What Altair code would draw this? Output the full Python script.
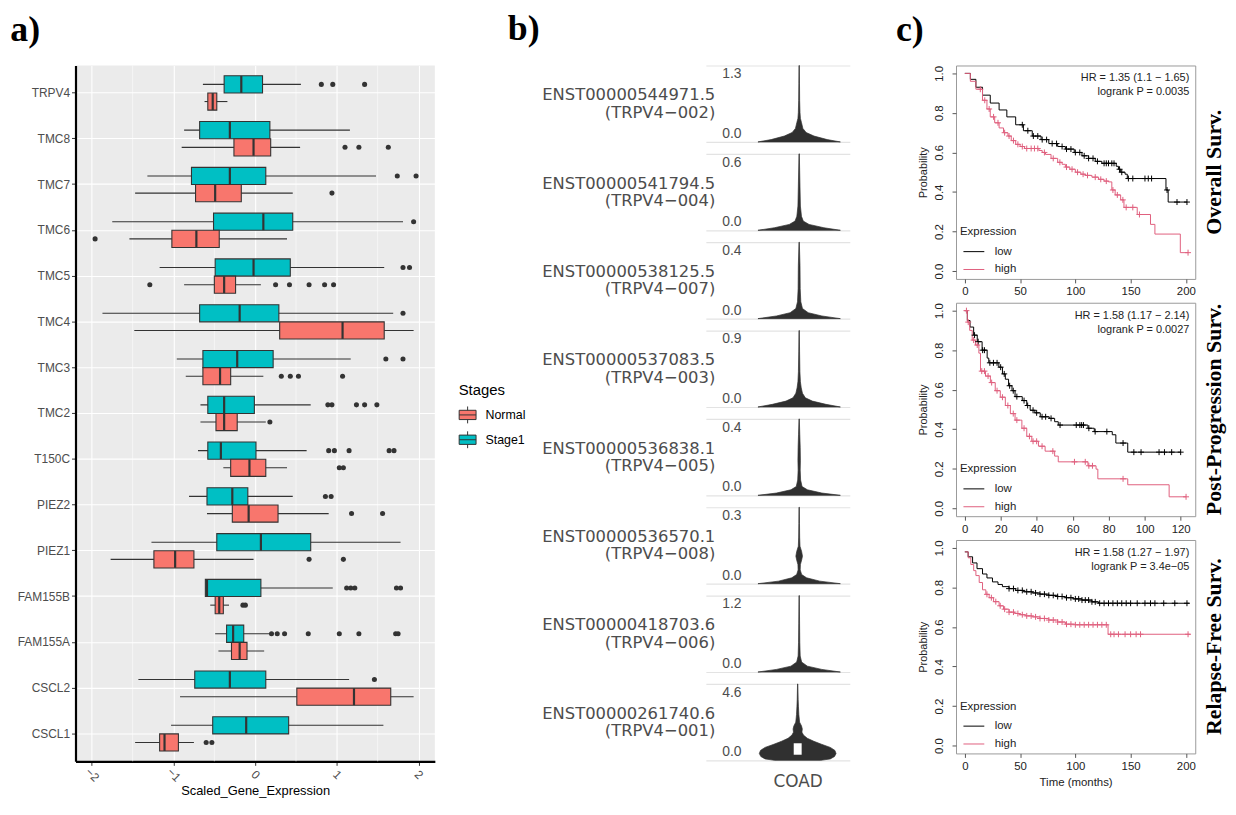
import altair as alt
import pandas as pd

# ---------------- panel a) : box plots ----------------
genes = ["TRPV4", "TMC8", "TMC7", "TMC6", "TMC5", "TMC4", "TMC3", "TMC2",
         "T150C", "PIEZ2", "PIEZ1", "FAM155B", "FAM155A", "CSCL2", "CSCL1"]
stage_names = ["Normal", "Stage1"]
stage_colors = ["#F8766D", "#00BFC4"]

stage1_lo = [-0.64, -0.87, -1.32, -1.75, -1.17, -1.87, -0.96, -0.67, -0.70, -0.81, -1.27, -0.61, -0.49, -1.43, -1.03]
stage1_q1 = [-0.38, -0.68, -0.78, -0.51, -0.49, -0.68, -0.64, -0.58, -0.58, -0.59, -0.47, -0.61, -0.35, -0.74, -0.52]
stage1_med = [-0.17, -0.31, -0.31, 0.10, -0.02, -0.19, -0.22, -0.38, -0.42, -0.28, 0.07, -0.59, -0.27, -0.31, -0.11]
stage1_q3 = [0.09, 0.18, 0.13, 0.46, 0.43, 0.29, 0.22, -0.01, 0.01, -0.09, 0.68, 0.07, -0.14, 0.13, 0.41]
stage1_hi = [0.56, 1.16, 1.48, 1.81, 1.58, 1.69, 1.17, 0.68, 0.63, 0.46, 1.78, 0.95, 0.18, 1.15, 1.57]
stage1_out = [[0.81, 0.95, 1.34], [], [1.74, 1.97], [1.94], [1.81, 1.89], [1.81], [1.60, 1.81],
              [0.89, 0.94, 1.24, 1.34, 1.49], [0.90, 0.97, 1.15, 1.64, 1.70], [0.86, 0.93], [],
              [1.12, 1.17, 1.22, 1.73, 1.78], [0.20, 0.27, 0.36, 0.65, 1.03, 1.27, 1.72, 1.75], [1.46], []]

normal_lo = [-0.62, -0.90, -1.47, -1.54, -0.87, -1.48, -0.85, -0.67, -0.39, -0.59, -1.77, -0.55, -0.45, -0.92, -1.47]
normal_q1 = [-0.58, -0.26, -0.73, -1.02, -0.50, 0.30, -0.64, -0.48, -0.30, -0.28, -1.24, -0.49, -0.29, 0.51, -1.17]
normal_med = [-0.52, -0.02, -0.49, -0.72, -0.38, 1.07, -0.43, -0.38, -0.07, -0.08, -0.98, -0.44, -0.19, 1.21, -1.11]
normal_q3 = [-0.47, 0.19, -0.17, -0.44, -0.24, 1.58, -0.30, -0.22, 0.13, 0.28, -0.75, -0.39, -0.10, 1.66, -0.94]
normal_hi = [-0.34, 0.55, 0.46, 0.39, 0.07, 1.94, 0.10, 0.13, 0.39, 0.90, -0.02, -0.32, 0.11, 1.94, -0.75]
normal_out = [[], [1.10, 1.27, 1.63], [0.94], [-1.96], [-1.29, 0.25, 0.42, 0.66, 0.85, 0.96], [],
              [0.32, 0.43, 0.53, 1.07], [0.18], [1.03, 1.08], [1.18, 1.56], [0.66, 1.08],
              [-0.15, -0.12], [], [], [-0.60, -0.53]]

x_ticks_a = [-2, -1, 0, 1, 2]
x_minor_a = [-1.5, -0.5, 0.5, 1.5]

# ---------------- panel b) : violins ----------------
tx_ids = ["ENST00000544971.5", "ENST00000541794.5", "ENST00000538125.5", "ENST00000537083.5",
          "ENST00000536838.1", "ENST00000536570.1", "ENST00000418703.6", "ENST00000261740.6"]
tx_names = ["(TRPV4\u2212002)", "(TRPV4\u2212004)", "(TRPV4\u2212007)", "(TRPV4\u2212003)",
            "(TRPV4\u2212005)", "(TRPV4\u2212008)", "(TRPV4\u2212006)", "(TRPV4\u2212001)"]
tx_max = [1.3, 0.6, 0.4, 0.9, 0.4, 0.3, 1.2, 4.6]
vio_v = [
    [0, 0.04, 0.1, 0.16, 0.23, 0.33, 0.4, 0.5, 0.7, 1.0, 1.3],
    [0, 0.02, 0.046, 0.072, 0.11, 0.19, 0.34, 0.6],
    [0, 0.014, 0.031, 0.053, 0.088, 0.157, 0.277, 0.4],
    [0, 0.031, 0.069, 0.108, 0.162, 0.225, 0.297, 0.414, 0.648, 0.9],
    [0, 0.012, 0.029, 0.046, 0.08, 0.132, 0.184, 0.252, 0.32, 0.4],
    [0, 0.01, 0.023, 0.036, 0.054, 0.075, 0.093, 0.108, 0.126, 0.147, 0.183, 0.237, 0.3],
    [0, 0.041, 0.092, 0.156, 0.252, 0.468, 0.768, 1.2],
    [0, 0.09, 0.23, 0.41, 0.6, 0.78, 0.97, 1.15, 1.33, 1.52, 1.7, 1.89, 2.07, 2.3, 2.76, 3.22, 3.68, 4.6],
]
vio_w = [
    [1.0, 0.68, 0.36, 0.17, 0.09, 0.056, 0.03, 0.02, 0.012, 0.008, 0.004],
    [1.0, 0.6, 0.24, 0.1, 0.056, 0.03, 0.02, 0.004],
    [1.0, 0.55, 0.22, 0.08, 0.04, 0.025, 0.02, 0.004],
    [1.0, 0.65, 0.32, 0.15, 0.08, 0.05, 0.03, 0.018, 0.01, 0.004],
    [1.0, 0.55, 0.2, 0.07, 0.035, 0.025, 0.03, 0.025, 0.015, 0.004],
    [1.0, 0.5, 0.18, 0.06, 0.025, 0.03, 0.06, 0.08, 0.06, 0.02, 0.012, 0.008, 0.004],
    [1.0, 0.55, 0.2, 0.06, 0.025, 0.015, 0.01, 0.004],
    [0.6, 0.85, 0.96, 1.0, 0.97, 0.85, 0.62, 0.42, 0.25, 0.15, 0.11, 0.12, 0.1, 0.05, 0.03, 0.02, 0.012, 0.004],
]
coad_box_q1 = [0.34]
coad_box_q3 = [1.03]
tumor_label = "COAD"

# ---------------- panel c) : Kaplan-Meier ----------------
km_titles = ["Overall Surv.", "Post-Progression Surv.", "Relapse-Free Surv."]
km_hr = ["HR = 1.35 (1.1 \u2212 1.65)\nlogrank P = 0.0035",
         "HR = 1.58 (1.17 \u2212 2.14)\nlogrank P = 0.0027",
         "HR = 1.58 (1.27 \u2212 1.97)\nlogrank P = 3.4e\u221205"]
km_xticks = [[0, 50, 100, 150, 200], [0, 20, 40, 60, 80, 100, 120], [0, 50, 100, 150, 200]]
km_xdomain = [[-8, 208.5], [-4.8, 128.1], [-8, 208.5]]
km_yticks = [0.0, 0.2, 0.4, 0.6, 0.8, 1.0]

os_low_t = [0, 5, 10, 16, 23, 31, 38, 46, 53, 61, 69, 76, 84, 91, 99, 106, 112, 118, 124, 137, 139, 141, 145, 147, 182, 184, 201]
os_low_p = [1.0, 0.97, 0.93, 0.89, 0.85, 0.815, 0.78, 0.74, 0.71, 0.683, 0.665, 0.645, 0.63, 0.617, 0.60, 0.583, 0.57, 0.555, 0.545, 0.53, 0.515, 0.50, 0.49, 0.468, 0.41, 0.349, 0.349]
os_high_t = [0, 5, 10, 16, 20, 23, 27, 31, 35, 39, 42, 46, 50, 54, 67, 70, 73, 78, 84, 88, 91, 95, 100, 105, 109, 115, 121, 126, 130, 133, 136, 141, 144, 156, 168, 172, 195, 202]
os_high_p = [1.0, 0.96, 0.92, 0.864, 0.82, 0.78, 0.75, 0.724, 0.70, 0.683, 0.66, 0.641, 0.63, 0.62, 0.61, 0.60, 0.59, 0.57, 0.55, 0.54, 0.526, 0.515, 0.50, 0.49, 0.484, 0.475, 0.464, 0.455, 0.451, 0.41, 0.385, 0.36, 0.322, 0.286, 0.236, 0.187, 0.093, 0.093]
os_low_ct = [52, 57, 62, 66, 70, 74, 79, 83, 88, 92, 96, 100, 104, 108, 112, 116, 120, 126, 128, 130, 133, 135, 140, 142, 148, 152, 163, 166, 169, 183, 192, 201]
os_low_cp = [0.74, 0.71, 0.683, 0.683, 0.665, 0.665, 0.645, 0.645, 0.63, 0.617, 0.617, 0.60, 0.60, 0.583, 0.57, 0.57, 0.555, 0.545, 0.545, 0.545, 0.545, 0.545, 0.515, 0.50, 0.468, 0.468, 0.468, 0.468, 0.468, 0.41, 0.349, 0.349]
os_high_ct = [14, 18, 22, 26, 30, 36, 40, 44, 48, 52, 56, 60, 63, 66, 72, 80, 86, 92, 97, 102, 107, 111, 118, 123, 128, 134, 138, 143, 146, 152, 158, 202]
os_high_cp = [0.92, 0.864, 0.82, 0.78, 0.75, 0.70, 0.683, 0.66, 0.641, 0.63, 0.62, 0.62, 0.62, 0.62, 0.60, 0.57, 0.55, 0.526, 0.515, 0.50, 0.49, 0.484, 0.475, 0.464, 0.455, 0.41, 0.385, 0.36, 0.322, 0.322, 0.286, 0.093]

pps_low_t = [0, 1.5, 3, 5, 7, 9.7, 12.5, 13.4, 19, 21, 22.6, 24.4, 26.3, 28, 32, 34.5, 36.4, 39, 42, 47, 50, 52, 68.5, 72, 82, 84, 90.6, 120]
pps_low_p = [1.0, 0.95, 0.917, 0.876, 0.843, 0.80, 0.76, 0.736, 0.714, 0.68, 0.653, 0.62, 0.595, 0.565, 0.545, 0.52, 0.496, 0.483, 0.463, 0.455, 0.438, 0.421, 0.405, 0.388, 0.372, 0.33, 0.284, 0.284]
pps_high_t = [0, 1.5, 2.8, 4.2, 6, 7.9, 8.8, 11.6, 14.3, 17, 19.8, 22.6, 25.4, 28, 31.8, 34.5, 37.3, 41, 44.7, 50, 52, 68.5, 73, 74, 90.6, 113.6, 123]
pps_high_p = [1.0, 0.942, 0.90, 0.851, 0.826, 0.785, 0.694, 0.669, 0.636, 0.595, 0.562, 0.52, 0.479, 0.446, 0.405, 0.364, 0.339, 0.314, 0.289, 0.264, 0.235, 0.215, 0.198, 0.149, 0.119, 0.058, 0.058]
pps_low_ct = [5.5, 7.5, 10, 11, 14, 16, 18, 20, 22, 25, 27, 29, 33, 35, 38, 40, 43, 45, 48, 53, 62, 64, 65, 66, 69, 72.5, 79, 88, 94, 98, 108, 111, 115, 120]
pps_low_cp = [0.876, 0.843, 0.80, 0.80, 0.736, 0.736, 0.736, 0.714, 0.68, 0.62, 0.595, 0.565, 0.545, 0.52, 0.496, 0.483, 0.463, 0.463, 0.455, 0.421, 0.421, 0.421, 0.421, 0.421, 0.405, 0.388, 0.388, 0.33, 0.284, 0.284, 0.284, 0.284, 0.284, 0.284]
pps_high_ct = [1, 2, 5, 7, 9.5, 11, 13, 15, 18, 21, 24, 27, 29, 33, 36, 38, 40, 43, 49, 61, 67, 69, 71, 88, 123]
pps_high_cp = [1.0, 0.942, 0.851, 0.826, 0.694, 0.694, 0.669, 0.636, 0.595, 0.562, 0.52, 0.479, 0.446, 0.405, 0.364, 0.339, 0.339, 0.314, 0.289, 0.235, 0.235, 0.215, 0.215, 0.149, 0.058]

rfs_low_t = [0, 3, 7, 11, 16, 20, 25, 30, 34, 40, 46, 53, 61, 68, 76, 84, 91, 98, 106, 115, 121, 203]
rfs_low_p = [0.98, 0.955, 0.924, 0.895, 0.868, 0.848, 0.828, 0.815, 0.804, 0.794, 0.785, 0.778, 0.772, 0.766, 0.76, 0.754, 0.748, 0.742, 0.736, 0.727, 0.72, 0.72]
rfs_high_t = [0, 3, 5.4, 8, 10, 13, 16, 19, 22, 26, 31, 35, 40, 45, 49, 55, 61, 68, 76, 84, 91, 100, 129.6, 204]
rfs_high_p = [0.98, 0.95, 0.916, 0.885, 0.86, 0.825, 0.788, 0.765, 0.748, 0.728, 0.707, 0.69, 0.675, 0.668, 0.662, 0.656, 0.651, 0.643, 0.635, 0.625, 0.614, 0.611, 0.563, 0.563]
rfs_low_ct = [40, 44, 48, 52, 56, 60, 64, 68, 72, 76, 80, 84, 88, 92, 96, 100, 103, 106, 109, 112, 115, 118,
              122, 126, 130, 134, 138, 142, 146, 150, 156, 163, 168, 172, 180, 190, 201]
rfs_low_cp = [0.794, 0.794, 0.785, 0.785, 0.778, 0.778, 0.772, 0.766, 0.766, 0.76, 0.76, 0.754, 0.754, 0.748, 0.748, 0.742, 0.742, 0.736, 0.736, 0.736, 0.727, 0.727,
              0.72, 0.72, 0.72, 0.72, 0.72, 0.72, 0.72, 0.72, 0.72, 0.72, 0.72, 0.72, 0.72, 0.72, 0.72]
rfs_high_ct = [20, 24, 28, 32, 36, 40, 44, 48, 52, 56, 60, 64, 68, 72, 76, 80, 84, 88, 92, 96, 100,
               104, 108, 112, 116, 120, 124, 128, 132, 135, 139, 145, 150, 155, 159, 202]
rfs_high_cp = [0.765, 0.748, 0.728, 0.707, 0.69, 0.675, 0.675, 0.668, 0.662, 0.656, 0.656, 0.651, 0.643, 0.643, 0.635, 0.635, 0.625, 0.625, 0.614, 0.614, 0.611,
               0.611, 0.611, 0.611, 0.611, 0.611, 0.611, 0.611, 0.563, 0.563, 0.563, 0.563, 0.563, 0.563, 0.563, 0.563]

km_groups = ["low", "high"]
km_colors = ["black", "#E0607E"]

FONT = "Liberation Sans"
SERIF = "Liberation Serif"
DARK = "#333333"


def panel_title(txt, dx, offset):
    return alt.TitleParams(text=txt, anchor="start", frame="bounds", dx=dx, offset=offset,
                           font=SERIF, fontSize=36, fontWeight="bold", color="black")


# ================= panel a =================
rows = []
out_rows = []
for i, g in enumerate(genes):
    rows.append({"gene": g, "stage": "Stage1", "lo": stage1_lo[i], "q1": stage1_q1[i],
                 "med": stage1_med[i], "q3": stage1_q3[i], "hi": stage1_hi[i]})
    rows.append({"gene": g, "stage": "Normal", "lo": normal_lo[i], "q1": normal_q1[i],
                 "med": normal_med[i], "q3": normal_q3[i], "hi": normal_hi[i]})
    for v in stage1_out[i]:
        out_rows.append({"gene": g, "stage": "Stage1", "val": v})
    for v in normal_out[i]:
        out_rows.append({"gene": g, "stage": "Normal", "val": v})
box_df = pd.DataFrame(rows)
out_df = pd.DataFrame(out_rows)
minor_df = pd.DataFrame({"m": x_minor_a})

xscale_a = alt.Scale(domain=[-2.2, 2.2], nice=False, zero=False)
axis_xa = alt.Axis(values=x_ticks_a, format="d", labelAngle=45, labelAlign="center", labelBaseline="middle",
                   labelPadding=9, labelFontSize=12, labelColor="#4D4D4D", grid=True, gridColor="white",
                   gridWidth=1.1, domainColor="black", domainWidth=2.2, tickColor=DARK, tickSize=4,
                   title="Scaled_Gene_Expression", titleFontSize=13, titleFontWeight="normal",
                   titleColor="black", titlePadding=1)
yA = alt.Y("gene:N", sort=genes,
           scale=alt.Scale(domain=genes, paddingInner=0, paddingOuter=0.1),
           axis=alt.Axis(title=None, bandPosition=0.5, grid=True, gridColor="white", gridWidth=1.1,
                         domainColor="black", domainWidth=2.2, tickColor=DARK, tickSize=4,
                         labelColor="#4D4D4D", labelFontSize=12, labelPadding=2))
yoA = alt.YOffset("stage:N", scale=alt.Scale(domain=["Stage1", "Normal"], paddingInner=0, paddingOuter=0.333))
box_symbol = "M-1,-0.55H1V0.55H-1Z M-1,0H1 M0,-0.55V-1 M0,0.55V1"

minor = alt.Chart(minor_df).mark_rule(color="white", strokeWidth=0.55).encode(
    x=alt.X("m:Q", scale=xscale_a, axis=axis_xa))
whisk = alt.Chart(box_df).mark_rule(color=DARK, strokeWidth=1.1).encode(
    x=alt.X("lo:Q", scale=xscale_a, axis=axis_xa), x2="hi:Q", y=yA, yOffset=yoA)
boxes = alt.Chart(box_df).mark_bar(stroke=DARK, strokeWidth=1.1, opacity=1).encode(
    x=alt.X("q1:Q", scale=xscale_a, axis=axis_xa), x2="q3:Q", y=yA, yOffset=yoA,
    color=alt.Color("stage:N", scale=alt.Scale(domain=stage_names, range=stage_colors),
                    legend=alt.Legend(title="Stages", orient="none", legendX=386, legendY=320,
                                      titleFontSize=15, titleFontWeight="normal", titleColor="black",
                                      titlePadding=8, labelFontSize=12.5, labelColor="black",
                                      labelOffset=9, symbolType=box_symbol, symbolSize=289,
                                      symbolStrokeColor=DARK, symbolStrokeWidth=1, symbolOpacity=1,
                                      rowPadding=3)))
meds = alt.Chart(box_df).mark_tick(color=DARK, thickness=2.2, size=17, opacity=1).encode(
    x=alt.X("med:Q", scale=xscale_a, axis=axis_xa), y=yA, yOffset=yoA)
outl = alt.Chart(out_df).mark_circle(color=DARK, size=26, opacity=1).encode(
    x=alt.X("val:Q", scale=xscale_a, axis=axis_xa), y=yA, yOffset=yoA)

A = alt.layer(minor, whisk, boxes, meds, outl).properties(
    width=362, height=701,
    view=alt.ViewBackground(fill="#EBEBEB", stroke="transparent"),
    title=panel_title("a)", -7, 16))

# ================= panel b =================
vrows = []
for i in range(len(tx_ids)):
    last = i == len(tx_ids) - 1
    df = pd.DataFrame({"v": vio_v[i], "w": vio_w[i]})
    df["wn"] = -df["w"]
    xs = alt.Scale(domain=[-2.265, 1.229], nice=False, zero=False)
    ys = alt.Scale(domain=[0, tx_max[i]], nice=False, zero=False)
    if last:
        xax = alt.Axis(values=[0], labelExpr="'%s'" % tumor_label, grid=False, ticks=False, domain=False,
                       title=None, labelFontSize=17, labelFont="DejaVu Sans", labelColor="#4D4D4D",
                       labelPadding=13)
    else:
        xax = None
    yax = alt.Axis(values=[0, tx_max[i]], format=".1f", labelFlush=True, labelFlushOffset=-1.5, grid=True,
                   gridColor="#E3E3E3", gridWidth=1.2, domain=False, ticks=False, labelAlign="left",
                   labelPadding=-16, labelFontSize=14, labelColor="#4D4D4D",
                   title=[tx_ids[i], tx_names[i]], titleAngle=0, titleAlign="right", titleBaseline="middle",
                   titleX=9, titleY=29.5, titleFontSize=16.5, titleFont="DejaVu Sans", titleFontWeight="normal",
                   titleColor="#4D4D4D", titleLineHeight=17.5)
    area = alt.Chart(df).mark_area(orient="horizontal", color="#303030", stroke="#303030",
                                   strokeWidth=0.7, opacity=1).encode(
        y=alt.Y("v:Q", scale=ys, axis=yax),
        x=alt.X("w:Q", scale=xs, axis=xax),
        x2="wn:Q")
    layers = [area]
    if last:
        bdf = pd.DataFrame({"q1": coad_box_q1, "q3": coad_box_q3})
        layers.append(alt.Chart(bdf).mark_bar(color="white", size=8).encode(
            x=alt.X(datum=0, scale=xs, axis=xax),
            y=alt.Y("q1:Q", scale=ys, axis=yax), y2="q3:Q"))
    vrows.append(alt.layer(*layers).properties(width=145, height=77,
                                               view=alt.ViewBackground(stroke="transparent")))

B = alt.vconcat(*vrows, spacing=8).properties(title=panel_title("b)", -34, 16))

# ================= panel c =================
km_sets = [
    (os_low_t, os_low_p, os_high_t, os_high_p, os_low_ct, os_low_cp, os_high_ct, os_high_cp),
    (pps_low_t, pps_low_p, pps_high_t, pps_high_p, pps_low_ct, pps_low_cp, pps_high_ct, pps_high_cp),
    (rfs_low_t, rfs_low_p, rfs_high_t, rfs_high_p, rfs_low_ct, rfs_low_cp, rfs_high_ct, rfs_high_cp),
]
plus_shape = "M-1,0H1M0,-1V1"
kms = []
for k, (lt, lp, ht, hp, lct, lcp, hct, hcp) in enumerate(km_sets):
    ldf = pd.concat([pd.DataFrame({"t": lt, "p": lp, "g": "low"}),
                     pd.DataFrame({"t": ht, "p": hp, "g": "high"})])
    cdf = pd.concat([pd.DataFrame({"t": lct, "p": lcp, "g": "low"}),
                     pd.DataFrame({"t": hct, "p": hcp, "g": "high"})])
    xs = alt.Scale(domain=km_xdomain[k], nice=False, zero=False)
    ys = alt.Scale(domain=[-0.04, 1.04], nice=False, zero=False)
    xax = alt.Axis(values=km_xticks[k], format="d", grid=False, domain=False, tickSize=4, tickColor="#555",
                   labelPadding=3, labelFontSize=11.5, labelColor="#222",
                   title="Time (months)" if k == 2 else None, titleFontSize=11.5,
                   titleFontWeight="normal", titleColor="#222", titlePadding=5)
    yax = alt.Axis(values=km_yticks, format=".1f", grid=False, domain=False, tickSize=4, tickColor="#555",
                   labelAngle=270, labelAlign="center", labelBaseline="bottom", labelPadding=8,
                   labelFontSize=11.5, labelColor="#222", title="Probability", titleFontSize=11,
                   titleFontWeight="normal", titleColor="#222", titlePadding=5)
    col = alt.Color("g:N", scale=alt.Scale(domain=km_groups, range=km_colors),
                    legend=alt.Legend(title="Expression", orient="bottom-left", offset=4,
                                      symbolType="stroke", symbolStrokeWidth=1, symbolSize=441,
                                      symbolOffset=3,
                                      titleFontSize=11.5, titleFontWeight="normal", titleColor="#222",
                                      labelFontSize=11.5, labelColor="#222", labelOffset=10,
                                      rowPadding=1, titlePadding=3, padding=0))
    line = alt.Chart(ldf).mark_line(interpolate="step-after", strokeWidth=1).encode(
        x=alt.X("t:Q", scale=xs, axis=xax), y=alt.Y("p:Q", scale=ys, axis=yax), color=col,
        detail="g:N")
    cens = alt.Chart(cdf).mark_point(shape=plus_shape, filled=False, size=36, strokeWidth=1,
                                     opacity=1).encode(
        x=alt.X("t:Q", scale=xs, axis=xax), y=alt.Y("p:Q", scale=ys, axis=yax), color=col)
    hr = alt.Chart(pd.DataFrame({"txt": [km_hr[k]]})).mark_text(
        align="right", baseline="alphabetic", fontSize=11, lineBreak="\n", lineHeight=14,
        color="#222").encode(text="txt:N", x=alt.value(235), y=alt.value(16))
    kms.append(alt.layer(line, cens, hr).properties(
        width=241, height=215,
        view=alt.ViewBackground(stroke="#9A9A9A", strokeWidth=1),
        title=alt.TitleParams(text=km_titles[k], orient="right", angle=270, baseline="bottom",
                              anchor="middle", font=SERIF, fontSize=22, fontWeight="bold",
                              color="black", offset=9)))

C = alt.vconcat(*kms, spacing=4).resolve_scale(color="independent").resolve_legend(
    color="independent").properties(title=panel_title("c)", -21, 16))

AB = alt.hconcat(A, B, spacing=-19).resolve_scale(color="independent").resolve_legend(color="independent")
chart = alt.hconcat(AB, C, spacing=46).resolve_scale(color="independent").resolve_legend(
    color="independent").properties(
    padding={"left": 2, "top": 0, "right": 2, "bottom": 0}
).configure(font=FONT).configure_view(strokeWidth=0)

chart.save("out.html", embed_options={"renderer": "svg", "actions": False})
